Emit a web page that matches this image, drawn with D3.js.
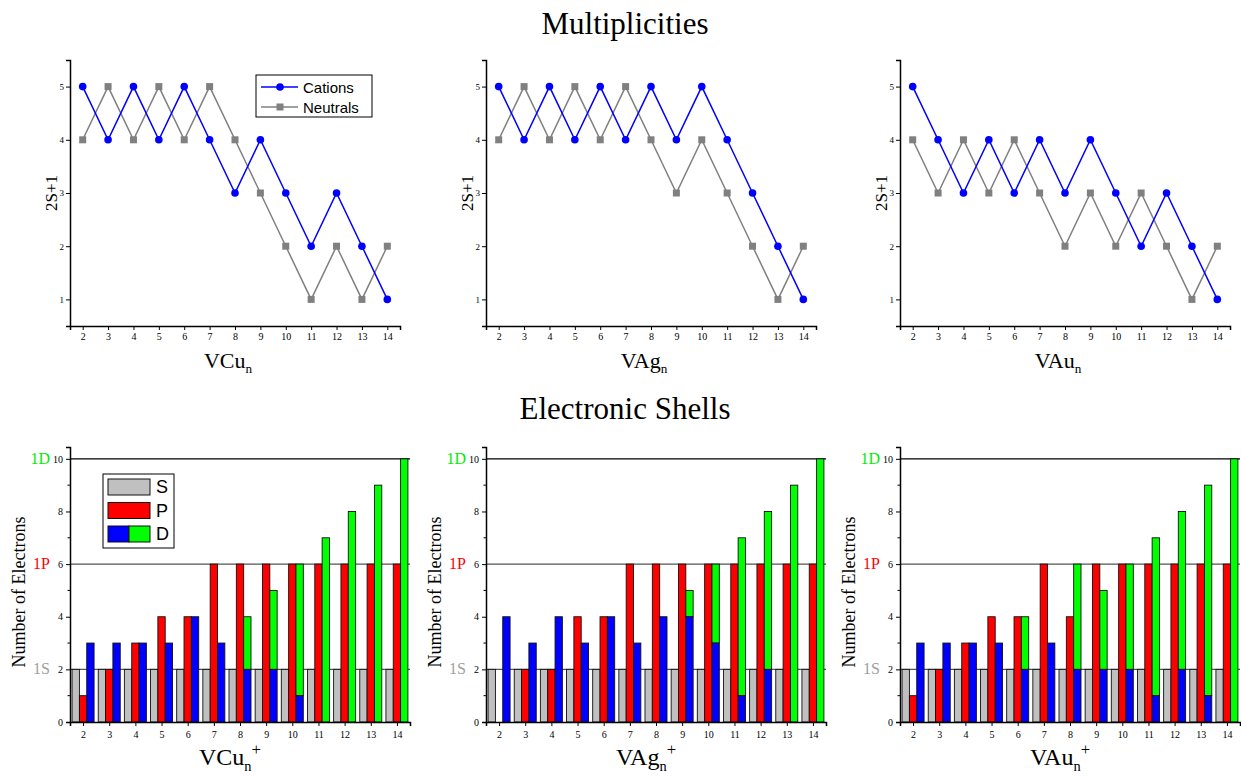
<html>
<head>
<meta charset="utf-8">
<title>Multiplicities and Electronic Shells</title>
<script src="https://d3js.org/d3.v7.min.js"></script>
<style>
body { margin: 0; background: #fff; }
.tick text { font-family: "Liberation Serif", serif; font-size: 10px; fill: #000; }
</style>
</head>
<body>
<svg width="1241" height="776"></svg>
<script>
// cluster sizes n and cluster names
var sizes = [2, 3, 4, 5, 6, 7, 8, 9, 10, 11, 12, 13, 14];
var clusters = ["VCu", "VAg", "VAu"];

// multiplicities 2S+1
var cationsVCu  = [5, 4, 5, 4, 5, 4, 3, 4, 3, 2, 3, 2, 1];
var neutralsVCu = [4, 5, 4, 5, 4, 5, 4, 3, 2, 1, 2, 1, 2];
var cationsVAg  = [5, 4, 5, 4, 5, 4, 5, 4, 5, 4, 3, 2, 1];
var neutralsVAg = [4, 5, 4, 5, 4, 5, 4, 3, 4, 3, 2, 1, 2];
var cationsVAu  = [5, 4, 3, 4, 3, 4, 3, 4, 3, 2, 3, 2, 1];
var neutralsVAu = [4, 3, 4, 3, 4, 3, 2, 3, 2, 3, 2, 1, 2];

// electrons per shell (cations)
var sShell = [2, 2, 2, 2, 2, 2, 2, 2, 2, 2, 2, 2, 2];
var pVCu    = [1, 2, 3, 4, 4, 6, 6, 6, 6, 6, 6, 6, 6];
var dLowVCu = [3, 3, 3, 3, 4, 3, 2, 2, 1, 0, 0, 0, 0];
var dTotVCu = [3, 3, 3, 3, 4, 3, 4, 5, 6, 7, 8, 9, 10];
var pVAg    = [0, 2, 2, 4, 4, 6, 6, 6, 6, 6, 6, 6, 6];
var dLowVAg = [4, 3, 4, 3, 4, 3, 4, 4, 3, 1, 2, 0, 0];
var dTotVAg = [4, 3, 4, 3, 4, 3, 4, 5, 6, 7, 8, 9, 10];
var pVAu    = [1, 2, 3, 4, 4, 6, 4, 6, 6, 6, 6, 6, 6];
var dLowVAu = [3, 3, 3, 3, 2, 3, 2, 2, 2, 1, 2, 1, 0];
var dTotVAu = [3, 3, 3, 3, 4, 3, 6, 5, 6, 7, 8, 9, 10];

// shell closings
var shellLevels = [2, 6, 10];
var shellNames = ["1S", "1P", "1D"];
var shellColors = ["#a0a0a0", "#ff0000", "#00ee00"];

var multData = [
  {name: "VCu", cat: cationsVCu, neu: neutralsVCu},
  {name: "VAg", cat: cationsVAg, neu: neutralsVAg},
  {name: "VAu", cat: cationsVAu, neu: neutralsVAu}
];
var shellData = [
  {name: "VCu", p: pVCu, dl: dLowVCu, dt: dTotVCu},
  {name: "VAg", p: pVAg, dl: dLowVAg, dt: dTotVAg},
  {name: "VAu", p: pVAu, dl: dLowVAu, dt: dTotVAu}
];

var svg = d3.select("svg");
var lefts = [70, 486, 900];
var serif = "'Liberation Serif', 'Times New Roman', serif";
var sans = "'Liberation Sans', Arial, sans-serif";

svg.append("text").text("Multiplicities")
  .attr("x", 625).attr("y", 34).attr("text-anchor", "middle")
  .style("font-family", serif).style("font-size", "31px");
svg.append("text").text("Electronic Shells")
  .attr("x", 625).attr("y", 419).attr("text-anchor", "middle")
  .style("font-family", serif).style("font-size", "31px");

function xLabel(g, cx, y, name, sup, size) {
  var t = g.append("text").attr("x", cx).attr("y", y).attr("text-anchor", "middle")
    .style("font-family", serif).style("font-size", size + "px");
  t.append("tspan").text(name);
  t.append("tspan").text("n").attr("dy", size * 0.24).style("font-size", (size * 0.6) + "px");
  if (sup) t.append("tspan").text("+").attr("dy", -size * 0.66).style("font-size", (size * 0.7) + "px");
}

// ---- multiplicities ----
multData.forEach(function(m, i) {
  var g = svg.append("g");
  var x = d3.scaleLinear().domain([1.5, 14.5]).range([lefts[i], lefts[i] + 330]);
  var y = d3.scaleLinear().domain([0.5, 5.5]).range([326, 60]);

  var xa = g.append("g").attr("transform", "translate(0,326)")
    .call(d3.axisBottom(x).tickValues(sizes).tickSize(4).tickPadding(3).tickFormat(d3.format("d")));
  var ya = g.append("g").attr("transform", "translate(" + lefts[i] + ",0)")
    .call(d3.axisLeft(y).tickValues([1, 2, 3, 4, 5]).tickSize(4).tickPadding(2).tickFormat(d3.format("d")));
  ya.selectAll(".tick text").style("font-size", "9px");
  [xa, ya].forEach(function(a) {
    a.select(".domain").attr("stroke-width", 1.5);
    a.selectAll(".tick line").attr("stroke-width", 1);
  });

  var line = d3.line().x(function(d, j) { return x(sizes[j]); }).y(function(d) { return y(d); });

  g.append("path").datum(m.neu).attr("d", line)
    .attr("fill", "none").attr("stroke", "#808080").attr("stroke-width", 1.5);
  g.selectAll(null).data(m.neu).enter().append("rect")
    .attr("x", function(d, j) { return x(sizes[j]) - 3.5; })
    .attr("y", function(d) { return y(d) - 3.5; })
    .attr("width", 7).attr("height", 7).attr("fill", "#808080");

  g.append("path").datum(m.cat).attr("d", line)
    .attr("fill", "none").attr("stroke", "#0000ff").attr("stroke-width", 1.5);
  g.selectAll(null).data(m.cat).enter().append("circle")
    .attr("cx", function(d, j) { return x(sizes[j]); })
    .attr("cy", function(d) { return y(d); })
    .attr("r", 3.8).attr("fill", "#0000ff");

  g.append("text").text("2S+1")
    .attr("transform", "translate(" + (lefts[i] - 13) + ",193) rotate(-90)")
    .attr("text-anchor", "middle")
    .style("font-family", serif).style("font-size", "17px");

  xLabel(g, lefts[i] + 158, 368, m.name, false, 22);

  if (i === 0) {
    var lg = g.append("g").attr("transform", "translate(256,75)");
    lg.append("rect").attr("width", 116).attr("height", 42)
      .attr("fill", "#fff").attr("stroke", "#000").attr("stroke-width", 1);
    [["Cations", "#0000ff"], ["Neutrals", "#808080"]].forEach(function(e, k) {
      var yy = 12 + k * 20;
      lg.append("line").attr("x1", 5).attr("x2", 42).attr("y1", yy).attr("y2", yy)
        .attr("stroke", e[1]).attr("stroke-width", 1.5);
      if (k === 0) lg.append("circle").attr("cx", 24).attr("cy", yy).attr("r", 3.8).attr("fill", e[1]);
      else lg.append("rect").attr("x", 20.5).attr("y", yy - 3.5).attr("width", 7).attr("height", 7).attr("fill", e[1]);
      lg.append("text").text(e[0]).attr("x", 47).attr("y", yy + 5.5)
        .style("font-family", sans).style("font-size", "15px");
    });
  }
});

// ---- electronic shells ----
shellData.forEach(function(s, i) {
  var g = svg.append("g");
  var w = 340;
  var x = d3.scaleLinear().domain([1.5, 14.5]).range([lefts[i], lefts[i] + w]);
  var y = d3.scaleLinear().domain([0, 10.45]).range([722, 447]);
  var sub = d3.scaleBand().domain(["S", "P", "D"]).range([-11, 11]);
  var bw = sub.bandwidth();

  // shell closing lines
  shellLevels.forEach(function(v, k) {
    g.append("line").attr("x1", lefts[i]).attr("x2", lefts[i] + w)
      .attr("y1", y(v)).attr("y2", y(v))
      .attr("stroke", k === 2 ? "#000" : "#555").attr("stroke-width", 1.2);
    g.append("text").text(shellNames[k])
      .attr("x", lefts[i] - 20).attr("y", y(v) + 5).attr("text-anchor", "end")
      .style("font-family", serif).style("font-size", "16px").style("fill", shellColors[k]);
  });

  function bars(vals, base, key, color) {
    g.selectAll(null).data(vals).enter().append("rect")
      .attr("x", function(d, j) { return x(sizes[j]) + sub(key); })
      .attr("y", function(d) { return y(d); })
      .attr("width", bw)
      .attr("height", function(d, j) { return Math.max(0, y(base ? base[j] : 0) - y(d)); })
      .attr("fill", color).attr("stroke", "#111").attr("stroke-width", 0.9)
      .style("display", function(d, j) { return d - (base ? base[j] : 0) > 0 ? null : "none"; });
  }
  bars(sShell, null, "S", "#c0c0c0");
  bars(s.p, null, "P", "#ff0000");
  bars(s.dt, s.dl, "D", "#00ff00");
  bars(s.dl, null, "D", "#0000ff");

  var xa = g.append("g").attr("transform", "translate(0,722)")
    .call(d3.axisBottom(x).tickValues(sizes).tickSize(4).tickPadding(5).tickFormat(d3.format("d")));
  var ya = g.append("g").attr("transform", "translate(" + lefts[i] + ",0)")
    .call(d3.axisLeft(y).tickValues([0, 2, 4, 6, 8, 10]).tickSize(4).tickPadding(3).tickFormat(d3.format("d")));
  ya.append("g").selectAll("line").data([1, 3, 5, 7, 9]).enter().append("line")
    .attr("x1", -2.5).attr("x2", 0).attr("y1", function(d) { return y(d); }).attr("y2", function(d) { return y(d); })
    .attr("stroke", "#000");
  [xa, ya].forEach(function(a) {
    a.select(".domain").attr("stroke-width", 1.5);
  });

  g.append("text").text("Number of Electrons")
    .attr("transform", "translate(" + (lefts[i] - 45) + ",592) rotate(-90)")
    .attr("text-anchor", "middle")
    .style("font-family", serif).style("font-size", "18px");

  xLabel(g, lefts[i] + 160, 765, s.name, true, 24);

  if (i === 0) {
    var lg = g.append("g").attr("transform", "translate(103,474)");
    lg.append("rect").attr("width", 71).attr("height", 74)
      .attr("fill", "#fff").attr("stroke", "#000").attr("stroke-width", 1);
    var sw = [["S", ["#c0c0c0"]], ["P", ["#ff0000"]], ["D", ["#0000ff", "#00ff00"]]];
    sw.forEach(function(e, k) {
      var yy = 5 + k * 23.5;
      var sww = 42 / e[1].length;
      e[1].forEach(function(c, q) {
        lg.append("rect").attr("x", 5 + q * sww).attr("y", yy).attr("width", sww).attr("height", 16)
          .attr("fill", c).attr("stroke", "#111").attr("stroke-width", 1);
      });
      lg.append("text").text(e[0]).attr("x", 53).attr("y", yy + 14)
        .style("font-family", sans).style("font-size", "18px");
    });
  }
});
</script>
</body>
</html>
